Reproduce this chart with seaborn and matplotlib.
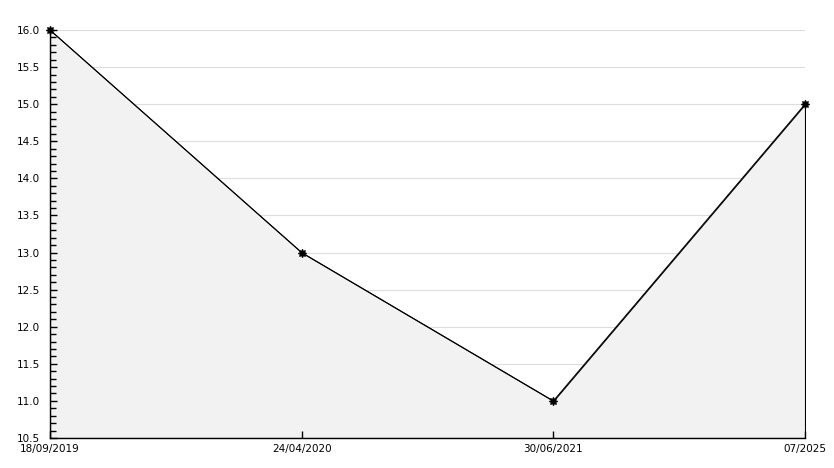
import matplotlib
matplotlib.use("Agg")
import matplotlib.pyplot as plt
import seaborn as sns
import pandas as pd
import numpy as np
from matplotlib.ticker import MultipleLocator

dates = ["18/09/2019", "24/04/2020", "30/06/2021", "07/2025"]
values = [16.0, 13.0, 11.0, 15.0]
yticks = [10.5, 11.0, 11.5, 12.0, 12.5, 13.0, 13.5, 14.0, 14.5, 15.0, 15.5, 16.0]

sns.set_style("ticks")
plt.rcParams['font.family'] = ['DejaVu Sans']
plt.rcParams['text.color'] = 'black'
plt.rcParams['xtick.color'] = 'black'
plt.rcParams['ytick.color'] = 'black'
plt.rcParams['xtick.direction'] = 'in'
plt.rcParams['ytick.direction'] = 'in'
plt.rcParams['ytick.minor.visible'] = True

df = pd.DataFrame({"pos": np.arange(len(dates)), "value": values, "date": dates})

fig = plt.figure(figsize=(8.34, 4.68), dpi=100)
ax = fig.add_axes([50/834, 1 - 438/468, (805 - 50)/834, (438 - 30)/468])
ax.set_axisbelow(False)

ax.fill_between(df["pos"], df["value"], yticks[0], facecolor="#f2f2f2",
                edgecolor="black", linewidth=0.8, zorder=0.5)
sns.lineplot(data=df, x="pos", y="value", ax=ax, color="black", linewidth=0.7,
             marker=(8, 1, 0), markersize=6, markeredgewidth=0.8,
             markerfacecolor="black", markeredgecolor="black", zorder=5,
             clip_on=False)

ax.set_xlim(df["pos"].min(), df["pos"].max())
ax.set_ylim(yticks[0], yticks[-1])
ax.set_xticks(df["pos"])
ax.set_xticklabels(dates)
ax.set_yticks(yticks)
ax.set_yticklabels([f"{v:.1f}" for v in yticks])
ax.yaxis.set_minor_locator(MultipleLocator(0.1))
ax.set_xlabel("")
ax.set_ylabel("")

for y in yticks[1:]:
    ax.axhline(y, color="#dddddd", linewidth=0.8, zorder=0.2)

for s in ["top", "right"]:
    ax.spines[s].set_visible(False)
for s in ["left", "bottom"]:
    ax.spines[s].set_color("black")
    ax.spines[s].set_linewidth(1.0)
    ax.spines[s].set_zorder(4)

ax.tick_params(axis="y", which="major", direction="in", length=5, width=1.0,
               colors="black", labelsize=7.5, pad=7, left=True)
ax.tick_params(axis="y", which="minor", direction="in", length=4, width=1.0,
               colors="black", left=True)
ax.tick_params(axis="x", which="major", direction="in", length=5, width=1.0,
               colors="black", labelsize=7.5, pad=4, bottom=True)
ax.tick_params(axis="x", which="minor", bottom=False)
ax.set_facecolor("white")
ax.grid(False)

fig.savefig("out.png", dpi=100, facecolor="white")
